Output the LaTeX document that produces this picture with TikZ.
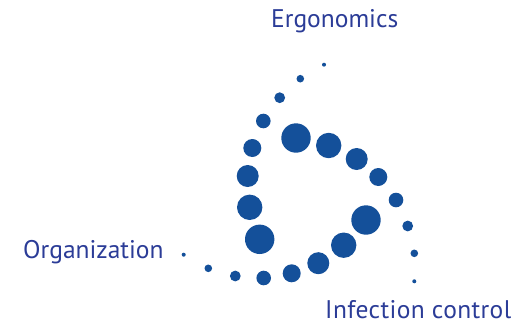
\documentclass[tikz,border=0pt]{standalone}
\usepackage{fontspec}
\setmainfont{PT Sans}
\usepackage{tikz}
\definecolor{dotblue}{HTML}{14509A}
\definecolor{textblue}{HTML}{2B3C97}
\tikzstyle{dot}=[
	circle,
	inner sep=0pt,
	draw=none,
	fill=dotblue
]
\tikzstyle{label}=[
	inner sep=0pt,
	text=textblue,
	font=\fontsize{25.5}{28}\selectfont
]
\begin{document}
\begin{tikzpicture}[x=1pt,y=-1pt]
\useasboundingbox (0,0) rectangle (528,325);
% arm towards Ergonomics
\node[dot, minimum size=4pt] (e1) at (324,64.7) {};
\node[dot, minimum size=7.6pt] (e2) at (300.3,78.7) {};
\node[dot, minimum size=10.8pt] (e3) at (279.7,97.7) {};
\node[dot, minimum size=14.6pt] (e4) at (263.3,121) {};
\node[dot, minimum size=18pt] (e5) at (252.3,148) {};
\node[dot, minimum size=22pt] (e6) at (247.7,176) {};
\node[dot, minimum size=25.4pt] (e7) at (249.7,207.3) {};
\node[dot, minimum size=29.4pt] (e8) at (259.7,239.3) {};
% arm towards Organization
\node[dot, minimum size=4pt] (o1) at (183.7,254.7) {};
\node[dot, minimum size=7.6pt] (o2) at (208.3,268.3) {};
\node[dot, minimum size=10.8pt] (o3) at (235.3,276) {};
\node[dot, minimum size=14.6pt] (o4) at (263.7,278) {};
\node[dot, minimum size=18pt] (o5) at (291.7,273.3) {};
\node[dot, minimum size=22pt] (o6) at (318.3,263.2) {};
\node[dot, minimum size=25.4pt] (o7) at (343.7,245.2) {};
\node[dot, minimum size=29.4pt] (o8) at (366,220) {};
% arm towards Infection control
\node[dot, minimum size=4pt] (i1) at (414.3,281.3) {};
\node[dot, minimum size=7.6pt] (i2) at (414.3,253.3) {};
\node[dot, minimum size=10.8pt] (i3) at (407.7,226) {};
\node[dot, minimum size=14.6pt] (i4) at (396,200) {};
\node[dot, minimum size=18pt] (i5) at (378.3,177) {};
\node[dot, minimum size=22pt] (i6) at (356.7,159) {};
\node[dot, minimum size=25.4pt] (i7) at (328.7,145.5) {};
\node[dot, minimum size=29.4pt] (i8) at (296,138) {};

\node[label, anchor=base west] (ergo) at (271,27.7) {Ergonomics};
\node[label, anchor=base west] (orga) at (23,258.3) {Organization};
\node[label, anchor=base west] (infc) at (325,318.5) {\addfontfeature{LetterSpace=1.5}Infection control};
\end{tikzpicture}
\end{document}
